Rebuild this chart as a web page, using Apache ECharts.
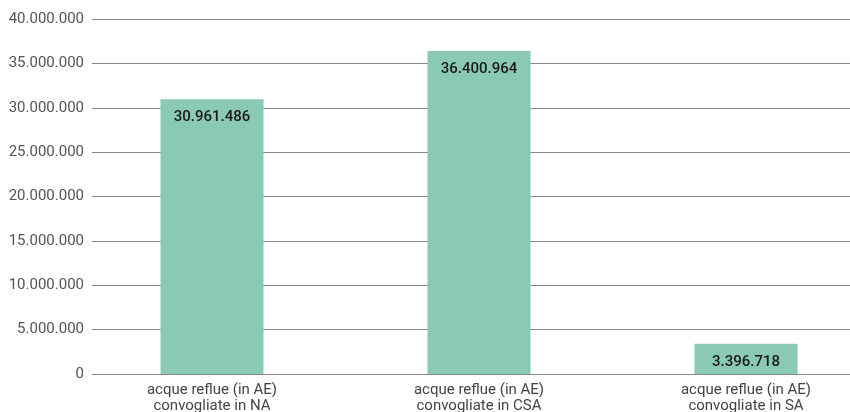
<!DOCTYPE html>
<html>
<head>
<meta charset="utf-8">
<script src="https://cdn.jsdelivr.net/npm/echarts@6/dist/echarts.min.js"></script>
<style>
  html, body { margin: 0; padding: 0; background: #fff; }
  #chart { width: 850px; height: 412px; }
</style>
</head>
<body>
<div id="chart"></div>
<script>
var categories = ['acque reflue (in AE)\nconvogliate in NA', 'acque reflue (in AE)\nconvogliate in CSA', 'acque reflue (in AE)\nconvogliate in SA'];
var values = [30961486, 36400964, 3396718];
var yTicks = [0, 5000000, 10000000, 15000000, 20000000, 25000000, 30000000, 35000000, 40000000];

function fmt(v) {
    return String(v).replace(/\B(?=(\d{3})+(?!\d))/g, '.');
}

var myChart = echarts.init(document.getElementById('chart'));

var option = {
    animation: false,
    textStyle: { fontFamily: 'Roboto' },
    grid: [
        { left: 92, right: 0, top: 19, bottom: 38, outerBoundsMode: 'none' },
        { left: 78.5, width: 801, top: 19, bottom: 38, outerBoundsMode: 'none' }
    ],
    xAxis: [
        { gridIndex: 0, type: 'category', data: categories, show: false },
        {
            gridIndex: 1,
            type: 'category',
            data: categories,
            axisLine: { show: false },
            axisTick: { show: false },
            axisLabel: { color: '#444', fontSize: 15, lineHeight: 16, margin: 8 }
        }
    ],
    yAxis: [
        {
            gridIndex: 0,
            type: 'value',
            min: yTicks[0],
            max: yTicks[yTicks.length - 1],
            interval: 5000000,
            axisLine: { show: false },
            axisTick: { show: false },
            axisLabel: { color: '#555', fontSize: 15, margin: 8, formatter: fmt },
            splitLine: { lineStyle: { color: '#888', width: 1 } }
        },
        {
            gridIndex: 1,
            type: 'value',
            min: yTicks[0],
            max: yTicks[yTicks.length - 1],
            show: false
        }
    ],
    series: [{
        type: 'bar',
        xAxisIndex: 1,
        yAxisIndex: 1,
        data: values,
        barWidth: 103,
        itemStyle: { color: '#8ac9b6' },
        label: {
            show: true,
            position: 'insideTop',
            distance: 11,
            color: '#1a1a1a',
            fontSize: 15,
            fontWeight: 500,
            formatter: function (p) { return fmt(p.value); }
        }
    }]
};

myChart.setOption(option);
</script>
</body>
</html>
